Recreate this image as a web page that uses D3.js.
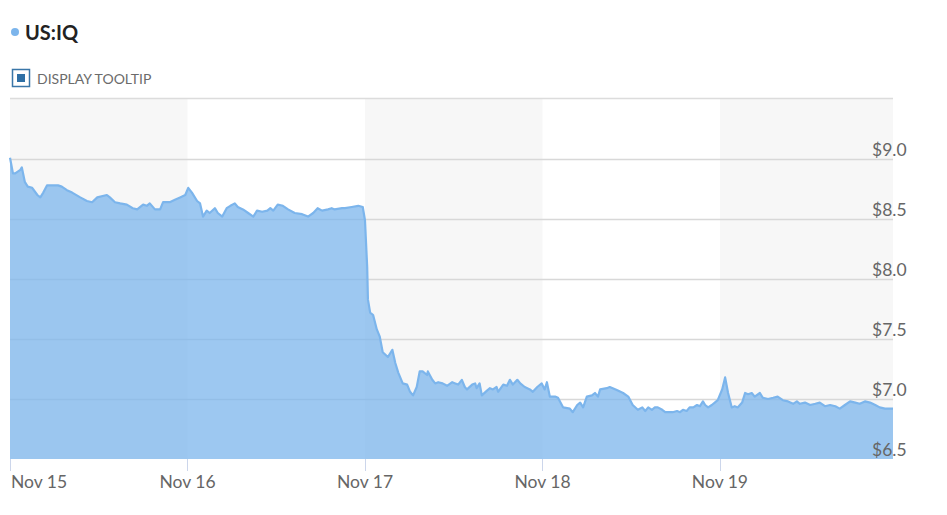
<!DOCTYPE html>
<html>
<head>
<meta charset="utf-8">
<script src="https://cdn.jsdelivr.net/npm/d3@7"></script>
<style>
  body { margin: 0; background: #fff; font-family: Lato, "Open Sans", sans-serif; }
</style>
</head>
<body>
<div id="container"></div>
<script>
var title = "US:IQ";
var tooltipLabel = "DISPLAY TOOLTIP";

// hours after Nov 15 00:00
var hours = [0, 0.4, 0.7, 1.4, 1.6, 2.0, 2.4, 3.0, 3.7, 4.1, 4.5, 5.0, 5.8, 6.5, 7.0, 7.7, 8.4, 9.5, 10.4, 11.1,
  11.8, 13.1, 13.5, 14.2, 14.9, 15.8, 16.6, 17.2, 18.0, 18.5, 18.9, 19.6, 20.3, 20.7, 21.6, 22.3, 23.0, 23.7, 24.1,
  24.6, 25.3, 25.7, 26.1, 26.6, 27.0, 27.7, 28.1, 28.7, 29.3, 29.8, 30.4, 30.8, 31.5, 32.2, 32.9, 33.4, 34.1, 34.8,
  35.2, 35.6, 36.2, 36.9, 37.6, 38.5, 39.5, 40.3, 41.0, 41.6, 42.2, 43.0, 43.5, 43.9, 44.9, 45.3, 46.2, 47.1, 47.7,
  48.0, 48.3, 48.4, 48.7, 49.1, 49.6, 50.0, 50.4, 51.1, 51.7, 52.1, 52.5, 53.1, 53.7, 54.1, 54.5, 55.0, 55.4, 55.8,
  56.4, 56.5, 57.1, 57.5, 57.9, 58.5, 59.1, 59.8, 60.2, 60.6,
  61.1, 61.5, 61.8, 62.5, 62.9, 63.1, 63.5, 63.8, 64.5, 64.9, 65.3, 65.8, 66.0, 66.7, 67.2, 67.6, 68.0, 68.6, 69.0,
  69.6, 70.3, 70.7, 71.3, 71.9, 72.3, 72.6, 73.0, 73.7, 74.1, 74.8, 75.7, 76.1, 76.7, 77.1, 77.5, 78.0, 78.7, 79.1,
  79.5, 79.8, 80.7, 81.1, 81.5, 82.2, 82.9, 83.6, 84.2, 84.9,
  85.5, 85.9, 86.3, 86.8, 87.2, 87.6, 88.2, 88.6, 89.6, 90.2, 90.6, 91.0, 91.5, 91.9, 92.4, 92.9, 93.3, 93.7, 94.0,
  94.4, 94.9, 95.3, 95.7, 96.3, 96.7, 97.1, 97.6, 98.0, 98.4, 99.0, 99.4, 99.8, 100.3, 100.7, 101.4, 101.8, 102.5,
  103.2, 103.8, 104.5, 105.2, 105.9, 106.4, 106.8, 107.5, 108.2, 108.9, 109.5, 110.2, 110.9, 111.6, 112.2, 112.9,
  113.6, 114.3, 114.9, 115.6, 116.3, 117.0, 117.6, 118.3, 119.4];

var prices = [9.01, 8.88, 8.88, 8.91, 8.93, 8.81, 8.77, 8.76, 8.70, 8.68, 8.72, 8.78, 8.78, 8.78, 8.77, 8.74, 8.72, 8.68, 8.65, 8.64,
  8.68, 8.70, 8.68, 8.64, 8.63, 8.62, 8.59, 8.58, 8.62, 8.61, 8.63, 8.58, 8.58, 8.64, 8.64, 8.66, 8.68, 8.70, 8.76,
  8.72, 8.65, 8.63, 8.52, 8.57, 8.55, 8.59, 8.55, 8.52, 8.59, 8.61, 8.63, 8.60, 8.58, 8.55, 8.52, 8.57, 8.56, 8.57,
  8.59, 8.57, 8.62, 8.61, 8.58, 8.55, 8.54, 8.52, 8.55, 8.59, 8.57, 8.58, 8.59, 8.58, 8.59, 8.59, 8.60, 8.61, 8.60,
  8.49, 8.10, 7.83, 7.72, 7.70, 7.58, 7.52, 7.39, 7.35, 7.41, 7.30, 7.22, 7.13, 7.12, 7.06, 7.03, 7.10, 7.23, 7.23,
  7.20, 7.23, 7.16, 7.13, 7.14, 7.13, 7.11, 7.14, 7.13, 7.12,
  7.16, 7.10, 7.08, 7.12, 7.13, 7.09, 7.13, 7.03, 7.07, 7.09, 7.08, 7.10, 7.06, 7.12, 7.11, 7.16, 7.12, 7.16, 7.13,
  7.10, 7.08, 7.06, 7.10, 7.13, 7.08, 7.14, 7.02, 7.02, 7.01, 6.93, 6.92, 6.89, 6.95, 6.97, 6.93, 7.02, 7.03, 7.05,
  7.02, 7.08, 7.09, 7.10, 7.09, 7.07, 7.05, 7.02, 6.95, 6.91,
  6.93, 6.90, 6.93, 6.91, 6.93, 6.93, 6.91, 6.89, 6.89, 6.90, 6.89, 6.91, 6.90, 6.93, 6.93, 6.95, 6.94, 6.98, 6.95,
  6.93, 6.95, 6.97, 6.99, 7.08, 7.18, 7.05, 6.93, 6.94, 6.93, 6.97, 7.05, 7.04, 7.05, 7.02, 7.05, 7.01, 7.00,
  7.01, 7.02, 6.99, 6.98, 6.96, 6.98, 6.96, 6.97, 6.95, 6.96, 6.97, 6.94, 6.95, 6.94, 6.92, 6.95,
  6.98, 6.97, 6.96, 6.98, 6.97, 6.95, 6.93, 6.92, 6.92];

var yTicks = [6.5, 7.0, 7.5, 8.0, 8.5, 9.0];
var dayStarts = ["2017-11-15", "2017-11-16", "2017-11-17", "2017-11-18", "2017-11-19"];
var endHour = 119.4;

(function() {
  var base = Date.UTC(2017, 10, 15);
  var points = hours.map(function(h, i) {
    return { t: new Date(base + h * 3600000), v: prices[i] };
  });
  var days = dayStarts.map(function(s) { return new Date(s + "T00:00:00Z"); });
  var endDate = new Date(base + endHour * 3600000);

  var W = 947, H = 515;
  var pl = 10, pr = 893, pt = 98, pb = 459;

  var svg = d3.select('#container').append('svg')
    .attr('width', W).attr('height', H);

  var x = d3.scaleUtc().domain([new Date(base), endDate]).range([pl, pr]);
  var y = d3.scaleLinear().domain([6.5, 9.5]).range([pb, pt + 1]);

  // header
  svg.append('circle').attr('cx', 15).attr('cy', 32).attr('r', 4).attr('fill', '#7cb5ec');
  svg.append('text').attr('x', 25).attr('y', 40)
    .attr('font-size', 20).attr('font-weight', 'bold').attr('fill', '#222')
    .text(title);

  svg.append('rect').attr('x', 12.5).attr('y', 69.5).attr('width', 17).attr('height', 17)
    .attr('fill', '#fff').attr('stroke', '#3a76a8').attr('stroke-width', 1.5);
  svg.append('rect').attr('x', 17).attr('y', 74).attr('width', 8).attr('height', 8).attr('fill', '#2f6fa5');
  svg.append('text').attr('x', 37).attr('y', 84)
    .attr('font-size', 14).attr('fill', '#6b6b6b')
    .text(tooltipLabel);

  // alternating day bands
  var bands = days.map(function(d, i) {
    return { from: d, to: i + 1 < days.length ? days[i + 1] : endDate, i: i };
  }).filter(function(b) { return b.i % 2 === 0; });

  svg.append('g').selectAll('rect').data(bands).enter().append('rect')
    .attr('x', function(d) { return x(d.from); })
    .attr('width', function(d) { return x(d.to) - x(d.from); })
    .attr('y', pt).attr('height', pb - pt)
    .attr('fill', '#f7f7f7');

  // top border + grid
  svg.append('line').attr('x1', pl).attr('x2', pr).attr('y1', pt + 0.5).attr('y2', pt + 0.5)
    .attr('stroke', '#dcdcdc').attr('stroke-width', 1.5);

  svg.append('g').selectAll('line').data(yTicks.filter(function(t) { return t > 6.5; })).enter().append('line')
    .attr('x1', pl).attr('x2', pr)
    .attr('y1', function(d) { return Math.round(y(d)) + 0.5; })
    .attr('y2', function(d) { return Math.round(y(d)) + 0.5; })
    .attr('stroke', '#d8d8d8').attr('stroke-width', 1.5);

  // area + line
  var area = d3.area()
    .x(function(d) { return x(d.t); })
    .y0(pb)
    .y1(function(d) { return y(d.v); });
  var line = d3.line()
    .x(function(d) { return x(d.t); })
    .y(function(d) { return y(d.v); });

  svg.append('path').datum(points).attr('d', area)
    .attr('fill', '#7cb5ec').attr('fill-opacity', 0.75);
  svg.append('path').datum(points).attr('d', line)
    .attr('fill', 'none').attr('stroke', '#7cb5ec').attr('stroke-width', 2.2)
    .attr('stroke-linejoin', 'round');

  // x axis
  var fmt = d3.utcFormat('%b %-d');
  var xg = svg.append('g');
  xg.selectAll('line').data(days).enter().append('line')
    .attr('x1', function(d) { return Math.round(x(d)) + 0.5; })
    .attr('x2', function(d) { return Math.round(x(d)) + 0.5; })
    .attr('y1', pb).attr('y2', pb + 12)
    .attr('stroke', '#ccd6eb');
  xg.selectAll('text').data(days).enter().append('text')
    .attr('x', function(d, i) { return i === 0 ? x(d) + 1 : x(d); })
    .attr('y', pb + 29)
    .attr('text-anchor', function(d, i) { return i === 0 ? 'start' : 'middle'; })
    .attr('font-size', 17.5).attr('fill', '#666')
    .text(fmt);

  // y axis labels
  svg.append('g').selectAll('text').data(yTicks).enter().append('text')
    .attr('x', 872)
    .attr('y', function(d) { return y(d) - 3; })
    .attr('font-size', 17.5).attr('fill', '#666')
    .text(function(d) { return '$' + d3.format('.1f')(d); });
})();
</script>
</body>
</html>
